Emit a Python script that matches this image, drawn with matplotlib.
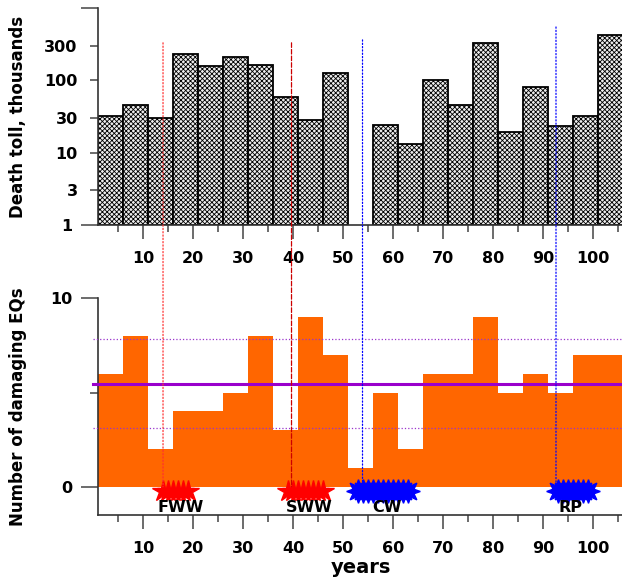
import numpy as np
import matplotlib.pyplot as plt
from matplotlib.patches import ConnectionPatch

plt.rcParams['font.family'] = 'DejaVu Sans'
plt.rcParams['font.weight'] = 'bold'
plt.rcParams['hatch.linewidth'] = 0.6

# 5-year bins, left edges (years after 1900)
bin_left = [1, 6, 11, 16, 21, 26, 31, 36, 41, 46, 51, 56, 61, 66, 71, 76, 81, 86, 91, 96, 101]
# death toll, thousands (0 = no bar)
deaths = [32, 45, 30, 230, 156, 213, 163, 58, 28, 128, 0, 24, 13, 102, 46, 323, 19, 81, 23, 32, 420]
# number of damaging earthquakes
n_eq = [6, 8, 2, 4, 4, 5, 8, 3, 9, 7, 1, 5, 2, 6, 6, 9, 5, 6, 5, 7, 7]

# periods (star markers) and labels
periods = {
    'FWW': ([14, 15, 16, 17, 18, 19], 'red', 17.6),
    'SWW': ([39, 40, 41, 42, 43, 44, 45, 46], 'red', 43.3),
    'CW': ([53, 54, 55, 56, 57, 58, 59, 60, 61, 62, 63], 'blue', 58.7),
    'RP': ([93, 94, 95, 96, 97, 98, 99], 'blue', 95.5),
}
# vertical marker lines: x, top value in upper panel, colour, style
vlines_x = [14, 39.7, 53.9, 92.6]
vlines_top = [330, 330, 362, 546]
vlines_col = ['#ff3030', '#cc0000', 'blue', 'blue']
vlines_ls = [':', '--', ':', ':']

fig = plt.figure(figsize=(6.22, 5.82), dpi=100)
ax1 = fig.add_axes([0.1576, 0.6134, 0.844, 0.3729])
ax2 = fig.add_axes([0.1576, 0.1151, 0.844, 0.3723])

# upper panel: death toll (log)
d = np.array(deaths, dtype=float)
left = np.array(bin_left)
m = d > 0
ax1.bar(left[m], d[m] - 1, bottom=1, width=5, align='edge', color='#eeeeee',
        edgecolor='black', linewidth=1.3, hatch='xxxxxxx')
ax1.set_yscale('log')
ax1.set_ylim(1, 1000)
ax1.set_yticks([1, 1000])
ax1.set_yticklabels(['1', ''])
ax1.set_yticks([3, 10, 30, 100, 300], minor=True)
ax1.set_yticklabels(['3', '10', '30', '100', '300'], minor=True)
ax1.set_ylabel('Death toll, thousands', fontsize=12, fontweight='bold')
ax1.yaxis.set_label_coords(-0.135, 0.5)

# lower panel: number of damaging EQs
ax2.bar(bin_left, n_eq, width=5, align='edge', color='#ff6600', edgecolor='none')
mean = np.mean(n_eq)
sd = np.sqrt(mean)
ax2.plot([0, 106], [mean, mean], color='#9900cc', lw=2.2, clip_on=False, zorder=3)
ax2.plot([0, 106], [mean + sd, mean + sd], color='#9933cc', lw=0.9, ls=':', clip_on=False, zorder=3)
ax2.plot([0, 106], [mean - sd, mean - sd], color='#9933cc', lw=0.9, ls=':', clip_on=False, zorder=3)
ax2.set_ylim(-1.5, 10)
ax2.set_yticks([0, 10])
ax2.set_yticks([5], minor=True)
ax2.set_ylabel('Number of damaging EQs', fontsize=12, fontweight='bold')
ax2.yaxis.set_label_coords(-0.135, 0.5)
ax2.set_xlabel('years', fontsize=14, fontweight='bold')
ax2.xaxis.set_label_coords(0.5, -0.2)

for name, (yrs, col, xt) in periods.items():
    if col == 'red':
        ax2.plot(yrs, [-0.25] * len(yrs), ls='none', marker='*', ms=16, color=col,
                 mec=col, zorder=5, clip_on=False)
    else:
        ax2.plot(yrs, [-0.25] * len(yrs), ls='none', marker=(8, 1, 0), ms=17, color=col,
                 mec=col, zorder=5, clip_on=False)
    ax2.text(xt, -1.12, name, ha='center', va='center', fontsize=11.5, fontweight='bold', zorder=6)

for ax in (ax1, ax2):
    ax.set_xlim(1, 106)
    ax.set_xticks(range(10, 101, 10))
    ax.set_xticks(range(5, 106, 10), minor=True)
    for s in ['top', 'right']:
        ax.spines[s].set_visible(False)
    for s in ['left', 'bottom']:
        ax.spines[s].set_linewidth(1.2)
        ax.spines[s].set_color('#333333')
    ax.tick_params(axis='x', which='major', length=10, width=1.1, color='#444444',
                   pad=9, labelsize=11.5)
    ax.tick_params(axis='x', which='minor', length=5, width=1.1, color='#444444')
    ax.tick_params(axis='y', which='major', length=12, width=1.1, color='#444444',
                   pad=6.5, labelsize=11.5)
    ax.tick_params(axis='y', which='minor', length=6, width=1.1, color='#444444',
                   pad=8.6, labelsize=11.5)

# vertical lines running from the upper panel down to the stars
for x, top, c, ls in zip(vlines_x, vlines_top, vlines_col, vlines_ls):
    con = ConnectionPatch(xyA=(x, top), coordsA=ax1.transData,
                          xyB=(x, 0), coordsB=ax2.transData,
                          color=c, lw=0.9, ls=ls, zorder=4)
    fig.add_artist(con)

fig.savefig('out.png', dpi=100)
